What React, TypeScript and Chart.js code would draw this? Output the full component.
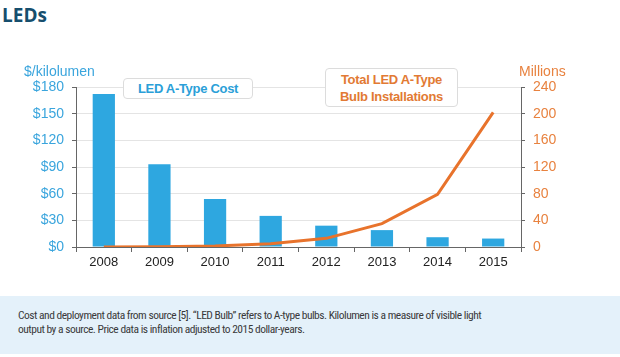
import React, { useEffect, useRef } from "react";
import { Chart, registerables } from "chart.js";

Chart.register(...registerables);

const years = ["2008", "2009", "2010", "2011", "2012", "2013", "2014", "2015"];
const costPerKlm = [172, 93, 54, 35, 24, 19, 11, 9.5];
const installsMillions = [0, 0.5, 1.5, 5, 13, 35, 79, 202];
const costTicks = [0, 30, 60, 90, 120, 150, 180];
const installTicks = [0, 40, 80, 120, 160, 200, 240];

const BLUE = "#2ea7e0";
const BLUE_TEXT = "#3aa5dd";
const ORANGE = "#e8732c";
const ORANGE_TEXT = "#e8823f";
const AXIS = "#666666";
const GRID = "#e4e4e4";

export default function App() {
  const ref = useRef<HTMLCanvasElement | null>(null);

  useEffect(() => {
    if (!ref.current) return;
    Chart.defaults.font.family = "'Liberation Sans', Arial, sans-serif";
    const chart = new Chart(ref.current, {
      type: "bar",
      data: {
        labels: years,
        datasets: [
          {
            type: "line",
            label: "Total LED A-Type Bulb Installations",
            data: installsMillions,
            yAxisID: "y1",
            borderColor: ORANGE,
            backgroundColor: ORANGE,
            borderWidth: 3,
            pointRadius: 0,
            tension: 0,
            order: 0,
          },
          {
            type: "bar",
            label: "LED A-Type Cost",
            data: costPerKlm,
            yAxisID: "y",
            backgroundColor: BLUE,
            barPercentage: 0.4,
            categoryPercentage: 1,
            order: 1,
          },
        ],
      },
      options: {
        animation: false,
        responsive: false,
        maintainAspectRatio: false,
        layout: { padding: { top: 87, left: 0, right: 0, bottom: 0 } },
        plugins: { legend: { display: false }, tooltip: { enabled: false } },
        scales: {
          x: {
            grid: { drawOnChartArea: false, tickLength: 5, tickColor: AXIS, offset: true },
            border: { display: true, color: AXIS, width: 1 },
            ticks: { color: "#222", font: { size: 13 }, padding: 3 },
            afterFit: (s: any) => {
              s.height = 43;
            },
          },
          y: {
            position: "left",
            min: 0,
            max: 180,
            afterBuildTicks: (s: any) => {
              s.ticks = costTicks.map((v) => ({ value: v }));
            },
            ticks: {
              color: BLUE_TEXT,
              font: { size: 14 },
              padding: 8,
              callback: (v: any) => "$" + v,
            },
            grid: { color: GRID, tickColor: AXIS, tickLength: 4 },
            border: { display: true, color: AXIS, width: 1 },
            afterFit: (s: any) => {
              s.width = 76;
            },
          },
          y1: {
            position: "right",
            min: 0,
            max: 240,
            afterBuildTicks: (s: any) => {
              s.ticks = installTicks.map((v) => ({ value: v }));
            },
            ticks: { color: ORANGE_TEXT, font: { size: 14 }, padding: 8 },
            grid: { drawOnChartArea: false, tickColor: AXIS, tickLength: 4 },
            border: { display: true, color: AXIS, width: 1 },
            afterFit: (s: any) => {
              s.width = 99;
            },
          },
        },
      },
    });
    return () => chart.destroy();
  }, []);

  const boxStyle: React.CSSProperties = {
    position: "absolute",
    background: "#fff",
    border: "1px solid #dcdcdc",
    borderRadius: 4,
    boxSizing: "border-box",
    display: "flex",
    alignItems: "center",
    justifyContent: "center",
    textAlign: "center",
    fontFamily: "'Liberation Sans', Arial, sans-serif",
    fontWeight: 700,
    fontSize: 13,
    letterSpacing: -0.3,
    lineHeight: "17px",
  };

  return (
    <div style={{ position: "absolute", left: 0, top: 0, width: 620, height: 357, background: "#fff", overflow: "hidden" }}>
      <div
        style={{
          position: "absolute",
          left: 2,
          top: 0,
          fontFamily: "'Open Sans', sans-serif",
          fontWeight: 700,
          fontSize: 19,
          lineHeight: "30px",
          color: "#164e6d",
        }}
      >
        LEDs
      </div>
      <canvas ref={ref} width={620} height={290} style={{ position: "absolute", left: 0, top: 0, width: 620, height: 290 }} />
      <div
        style={{
          position: "absolute",
          left: 24,
          top: 63,
          fontFamily: "'Liberation Sans', Arial, sans-serif",
          fontSize: 14,
          lineHeight: "17px",
          color: BLUE_TEXT,
        }}
      >
        $/kilolumen
      </div>
      <div
        style={{
          position: "absolute",
          left: 519,
          top: 63,
          fontFamily: "'Liberation Sans', Arial, sans-serif",
          fontSize: 14,
          lineHeight: "17px",
          color: ORANGE_TEXT,
        }}
      >
        Millions
      </div>
      <div style={{ ...boxStyle, left: 123, top: 78, width: 130, height: 21, color: "#2b9fd8" }}>LED A-Type Cost</div>
      <div style={{ ...boxStyle, left: 325, top: 68, width: 133, height: 39, color: "#e27a34" }}>
        Total LED A-Type
        <br />
        Bulb Installations
      </div>
      <div
        style={{
          position: "absolute",
          left: 0,
          top: 296,
          width: 620,
          height: 58,
          background: "#e4f1fa",
          boxSizing: "border-box",
          padding: "12px 0 0 18px",
          fontFamily: "'Liberation Sans Narrow', 'Roboto Condensed', 'Liberation Sans', sans-serif",
          fontSize: 11.5,
          letterSpacing: -0.5,
          lineHeight: "14px",
          color: "#3a3a3a",
          whiteSpace: "nowrap",
        }}
      >
        Cost and deployment data from source [5]. “LED Bulb” refers to A-type bulbs. Kilolumen is a measure of visible light
        <br />
        output by a source. Price data is inflation adjusted to 2015 dollar-years.
      </div>
    </div>
  );
}
